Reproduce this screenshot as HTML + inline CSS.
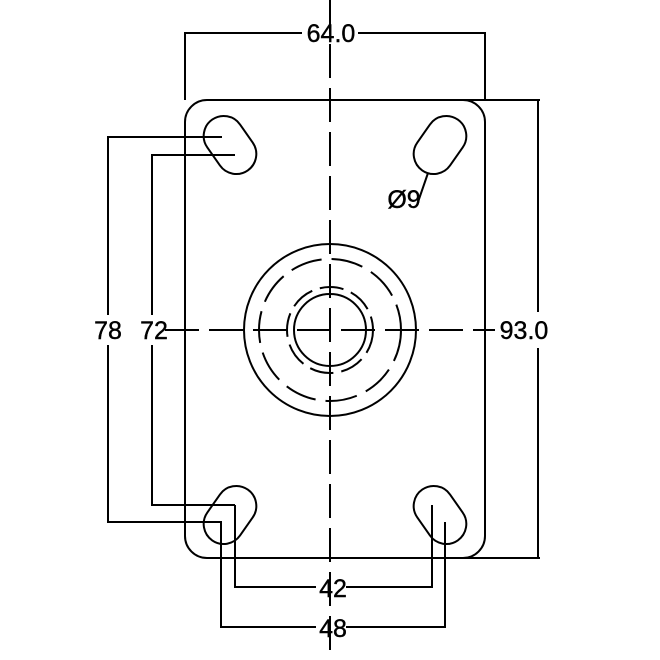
<!DOCTYPE html>
<html><head><style>body{margin:0;background:#fff}svg{display:block}</style></head><body>
<svg width="660" height="660" viewBox="0 0 660 660" xmlns="http://www.w3.org/2000/svg">
<g fill="none" stroke="#000" stroke-width="2">
<path d="M207 100 H540 M207 558 H540 M185 122 V536 M485 122 V536 M207 100 A22 22 0 0 0 185 122 M185 536 A22 22 0 0 0 207 558 M463 100 A22 22 0 0 1 485 122 M485 536 A22 22 0 0 1 463 558"/>
<path d="M185 100 V33 H302 M358 33 H485 V100"/>
<path d="M538 100 V312 M538 348 V558"/>
<path d="M222 137 H108 V315 M108 345 V522 H222"/>
<path d="M235 155 H152 V315 M152 345 V505 H235"/>
<path d="M235 505 V587 H316 M346 587 H432 V505"/>
<path d="M221 522 V627 H316 M346 627 H445 V522"/>
<path d="M428 173 L418 202"/>
<g transform="translate(230,145) rotate(-35)"><rect x="-20" y="-31" width="40" height="62" rx="20"/></g>
<g transform="translate(440,145) rotate(35)"><rect x="-20" y="-31" width="40" height="62" rx="20"/></g>
<g transform="translate(230,515) rotate(35)"><rect x="-20" y="-31" width="40" height="62" rx="20"/></g>
<g transform="translate(440,515) rotate(-35)"><rect x="-20" y="-31" width="40" height="62" rx="20"/></g>
<circle cx="330" cy="330" r="86"/>
<circle cx="330" cy="330" r="71" stroke-dasharray="32 10"/>
<circle cx="330" cy="330" r="43" stroke-dasharray="24 8"/>
<circle cx="330" cy="330" r="36"/>
<path d="M330 0 V660" stroke-dasharray="34 10"/>
<path d="M165 330 H495" stroke-dasharray="34 10"/>
</g>
<g font-family="Liberation Sans, sans-serif" font-size="25" fill="#000" text-anchor="middle" stroke="#000" stroke-width="0.4">
<text x="331" y="42">64.0</text>
<text x="524" y="339">93.0</text>
<text x="108" y="339">78</text>
<text x="154" y="339">72</text>
<text x="333" y="597">42</text>
<text x="333" y="637">48</text>
<text x="404" y="208">Ø9</text>
</g>
</svg>
</body></html>
